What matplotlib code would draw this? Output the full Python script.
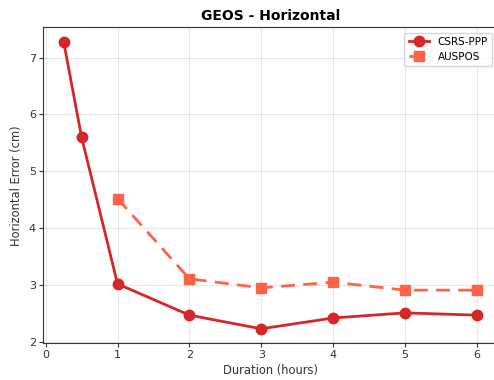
import matplotlib
matplotlib.use('Agg')
from matplotlib import pyplot as plt

durations_csrs = [0.25, 0.5, 1, 2, 3, 4, 5, 6]
error_csrs = [7.28, 5.60, 3.02, 2.47, 2.23, 2.42, 2.51, 2.47]
durations_auspos = [1, 2, 3, 4, 5, 6]
error_auspos = [4.52, 3.11, 2.95, 3.05, 2.91, 2.91]

fig = plt.figure(figsize=(4.94, 3.8), dpi=100)
ax = fig.add_axes([0.087, 0.097, 0.92, 0.831])
ax.plot(durations_csrs, error_csrs, label='CSRS-PPP', marker='o', color='#d62728',
        linewidth=2.0, markersize=7.5)
ax.plot(durations_auspos, error_auspos, label='AUSPOS', marker='s', color='#ff6347',
        linestyle='--', linewidth=2.0, markersize=7.5, dashes=(5, 3))
ax.set_xlabel('Duration (hours)', fontsize=8.3, color='#333333', labelpad=3)
ax.set_ylabel('Horizontal Error (cm)', fontsize=8.3, color='#333333', labelpad=4)
ax.set_title('GEOS - Horizontal', fontsize=10, fontweight='bold', pad=5)
ax.tick_params(labelsize=8, length=3, pad=2, colors='#333333')
for spine in ax.spines.values():
    spine.set_color('#333333')
ax.grid(True, alpha=0.3)
ax.legend(loc='upper right', fontsize=7.5)
fig.savefig('out.png', dpi=100)
